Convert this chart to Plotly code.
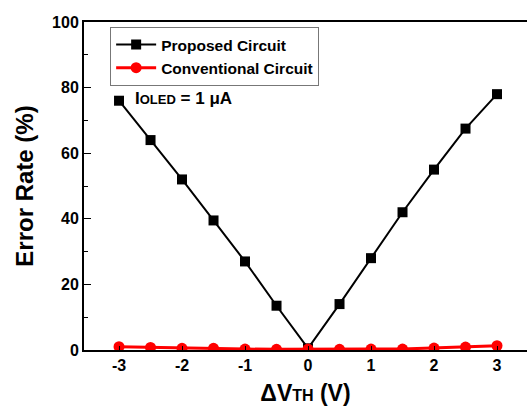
import plotly.graph_objects as go

dvth = [-3, -2.5, -2, -1.5, -1, -0.5, 0, 0.5, 1, 1.5, 2, 2.5, 3]
proposed = [76, 64, 52, 39.5, 27, 13.5, 0.5, 14, 28, 42, 55, 67.5, 78]
conventional = [1.0, 0.8, 0.5, 0.5, 0.3, 0.2, 0.3, 0.2, 0.3, 0.3, 0.6, 0.9, 1.3]
xticks = [-3, -2, -1, 0, 1, 2, 3]
yticks = [0, 20, 40, 60, 80, 100]

FONT = "Liberation Sans"

fig = go.Figure()
fig.add_trace(go.Scatter(x=dvth, y=proposed, mode="lines+markers", name="<b>Proposed Circuit</b>",
                         line=dict(color="black", width=2),
                         marker=dict(symbol="square", size=10, color="black")))
fig.add_trace(go.Scatter(x=dvth, y=conventional, mode="lines+markers", name="<b>Conventional Circuit</b>",
                         line=dict(color="#ff0000", width=3),
                         marker=dict(symbol="circle", size=11, color="#ff0000")))

fig.update_layout(
    width=527, height=418,
    margin=dict(l=84, r=0, t=22, b=68),
    plot_bgcolor="white", paper_bgcolor="white",
    font=dict(family=FONT, color="black"),
    showlegend=True,
    legend=dict(x=0.059, y=0.985, xanchor="left", yanchor="top",
                bgcolor="white", bordercolor="#777777", borderwidth=1,
                font=dict(family=FONT, size=15.5, color="black"),
                tracegroupgap=0, itemwidth=40),
    xaxis=dict(range=[-3.556, 3.476], tickvals=xticks, ticktext=[f"<b>{v}</b>" for v in xticks],
               showline=True, linecolor="black", linewidth=2, mirror=True,
               ticks="inside", ticklen=4, tickwidth=1, tickcolor="black",
               showgrid=False, zeroline=False,
               tickfont=dict(family=FONT, size=16, color="black"),
               title=dict(text="<b>ΔV<span style='font-size:16px'>TH</span> (V)</b>",
                          font=dict(family=FONT, size=23, color="black"), standoff=12)),
    yaxis=dict(range=[0, 100], tickvals=yticks, ticktext=[f"<b>{v}</b>" for v in yticks],
               showline=True, linecolor="black", linewidth=2, mirror=False,
               ticks="inside", ticklen=7, tickwidth=1, tickcolor="black",
               minor=dict(dtick=10, ticks="inside", ticklen=4, tickcolor="black", tickwidth=1),
               showgrid=False, zeroline=False,
               tickfont=dict(family=FONT, size=16, color="black"),
               title=dict(text="<b>Error Rate (%)</b>",
                          font=dict(family=FONT, size=24, color="black"), standoff=12)),
)

fig.add_annotation(xref="paper", yref="paper", x=(133-84)/443, y=(350-98)/328,
                   xanchor="left", yanchor="middle", showarrow=False,
                   text="<b>I<span style='font-size:13px'>OLED</span> = 1 μA</b>",
                   font=dict(family=FONT, size=17, color="black"))

fig.write_html("out.html")
